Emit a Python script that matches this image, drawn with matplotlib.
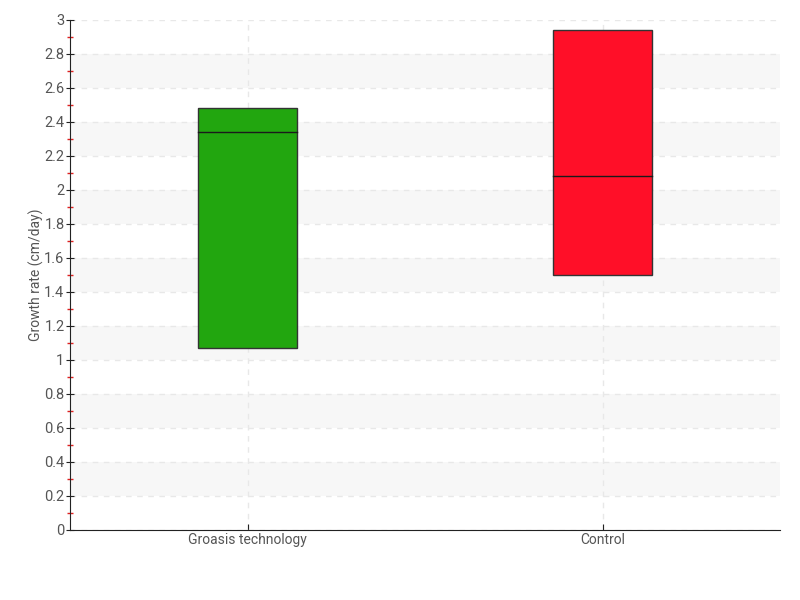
import matplotlib.pyplot as plt
import numpy as np

plt.rcParams['font.family'] = ['Roboto', 'DejaVu Sans']

groups = ['Groasis technology', 'Control']
q1 = [1.07, 1.50]
median = [2.34, 2.08]
q3 = [2.48, 2.94]
colors = ['#22a60f', '#ff0f28']
yticks = [0, 0.2, 0.4, 0.6, 0.8, 1, 1.2, 1.4, 1.6, 1.8, 2, 2.2, 2.4, 2.6, 2.8, 3]
ylabels = ['0', '0.2', '0.4', '0.6', '0.8', '1', '1.2', '1.4', '1.6', '1.8',
           '2', '2.2', '2.4', '2.6', '2.8', '3']

fig = plt.figure(figsize=(8, 6), dpi=100)
ax = fig.add_axes([0.0875, 0.1167, 0.8875, 0.85])

# alternating bands
for lo in np.arange(0.2, 3.0, 0.4):
    ax.axhspan(lo, lo + 0.2, color='#f7f7f7', zorder=0, lw=0)

ax.yaxis.grid(True, ls=(0, (4, 4)), color='#e8e8e8', lw=1, zorder=1)
ax.xaxis.grid(True, ls=(0, (4, 4)), color='#e8e8e8', lw=1, zorder=1)

pos = np.arange(len(groups))
w = 0.28
for i in range(len(groups)):
    ax.bar(pos[i], q3[i] - q1[i], bottom=q1[i], width=w, color=colors[i],
           edgecolor='#333333', lw=1, zorder=3)
    ax.plot([pos[i] - w / 2, pos[i] + w / 2], [median[i]] * 2, color='#1a1a1a',
            lw=1, zorder=4)

ax.set_xlim(-0.5, 1.5)
ax.set_ylim(0, 3)
ax.set_xticks(pos)
ax.set_xticklabels(groups)
ax.set_yticks(yticks)
ax.set_yticklabels(ylabels)
ax.set_yticks(np.arange(0.1, 3.0, 0.2), minor=True)

for s in ['top', 'right']:
    ax.spines[s].set_visible(False)
ax.spines['left'].set_color('#222222')
ax.spines['bottom'].set_color('#222222')

ax.tick_params(axis='y', which='major', direction='inout', length=6, color='#222222',
               labelcolor='#555555', labelsize=10.5, pad=1)
ax.tick_params(axis='y', which='minor', direction='inout', length=4, width=1,
               color='#e02020')
ax.tick_params(axis='x', direction='in', length=4, color='#222222',
               labelcolor='#555555', labelsize=10, pad=2)

ax.set_ylabel('Growth rate (cm/day)', color='#555555', fontsize=10, labelpad=0)

fig.savefig('out.png', dpi=100)
